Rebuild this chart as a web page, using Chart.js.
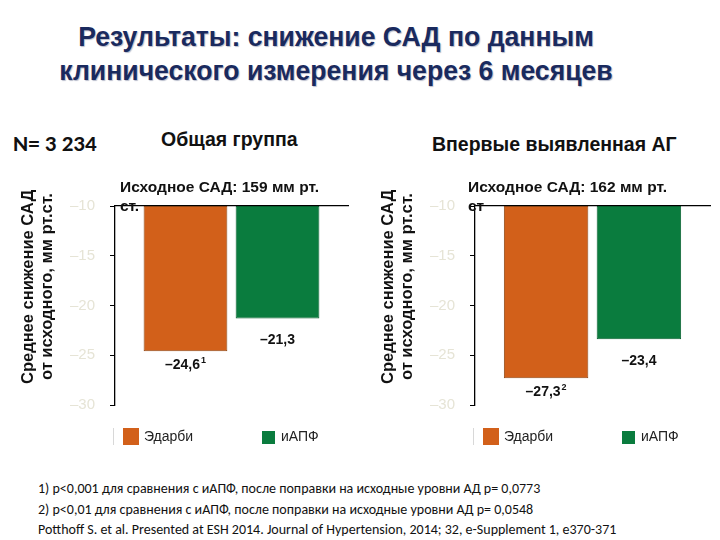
<!DOCTYPE html>
<html>
<head>
<meta charset="utf-8">
<script src="https://cdn.jsdelivr.net/npm/chart.js@4"></script>
<style>
  body { margin: 0; width: 720px; height: 540px; background: #fff; position: relative; overflow: hidden; font-family: "Liberation Sans", Arial, sans-serif; }
  .abs { position: absolute; white-space: nowrap; }
  #title { left: 0; top: 20px; width: 672px; text-align: center; font-family: "Liberation Sans Narrow", "Liberation Sans", sans-serif; font-weight: bold; font-size: 28px; line-height: 34px; color: #1a2a5e; text-shadow: 1px 1px 1px #b8bccb; transform: scaleX(0.95); transform-origin: 336px 0; }
  .calibri { font-family: Carlito, "Liberation Sans Narrow", "Liberation Sans", sans-serif; }
  .head { font-weight: bold; font-size: 19.5px; color: #111; }
  .base { font-weight: bold; font-size: 15.5px; line-height: 19px; color: #111; z-index: 2; }
  .ytitle { writing-mode: vertical-rl; transform: rotate(180deg); font-weight: bold; font-size: 16.5px; line-height: 19px; color: #111; text-align: center; }
  .legend { font-size: 14px; color: #222; }
  .sw { position: absolute; }
  canvas { position: absolute; }
  #notes { left: 38px; top: 479px; font-size: 14px; line-height: 20.5px; color: #111; }
</style>
</head>
<body>
<div id="title" class="abs">Результаты: снижение САД по данным<br>клинического измерения через 6 месяцев</div>

<div class="abs head calibri" style="left:13px; top:129px; font-size:23px;">N= 3 234</div>
<div class="abs head" style="left:161px; top:128px;">Общая группа</div>
<div class="abs head" style="left:432px; top:133px;">Впервые выявленная АГ</div>

<canvas id="leftChart" width="360" height="279" style="left:0; top:150px;"></canvas>
<canvas id="rightChart" width="360" height="279" style="left:360px; top:150px;"></canvas>

<div class="abs base" style="left:120px; top:177px;">Исходное САД: 159 мм рт.<br>ст.</div>
<div class="abs base" style="left:468px; top:177px;">Исходное САД: 162 мм рт.<br>ст</div>

<div class="abs ytitle" style="left:18px; top:187px; height:200px;">Среднее снижение САД<br>от исходного, мм рт.ст.</div>
<div class="abs ytitle" style="left:378px; top:187px; height:200px;">Среднее снижение САД<br>от исходного, мм рт.ст.</div>

<div id="legendLeft"></div>
<div id="legendRight"></div>

<div id="notes" class="abs calibri">1) p&lt;0,001 для сравнения с иАПФ, после поправки на исходные уровни АД p= 0,0773<br>2) p&lt;0,01 для сравнения с иАПФ, после поправки на исходные уровни АД p= 0,0548<br>Potthoff S. et al. Presented at ESH 2014. Journal of Hypertension, 2014; 32, e-Supplement 1, e370-371</div>

<script>
// Data
const seriesNames = ['Эдарби', 'иАПФ'];
const seriesColors = ['#d2601a', '#0a7c3e'];
const seriesBorders = ['#8e4614', '#08602f'];
const baseline = -10;

const totalValues = [-24.6, -21.3];
const totalNotes = ['1', ''];
const newAgValues = [-27.3, -23.4];
const newAgNotes = ['2', ''];

const yMin = -30;
const yMax = -10;
const yStep = 5;

function fmt(v) {
    return '\u2013' + Math.abs(v).toFixed(1).replace('.', ',');
}

// Value labels under each bar, with footnote marks
const valueLabels = {
    id: 'valueLabels',
    afterDatasetsDraw(chart) {
        const ctx = chart.ctx;
        chart.data.datasets.forEach((ds, i) => {
            const bar = chart.getDatasetMeta(i).data[0];
            const text = fmt(ds.value);
            ctx.save();
            ctx.font = 'bold 14px "Liberation Sans", Arial, sans-serif';
            ctx.fillStyle = '#111';
            ctx.textBaseline = 'middle';
            const w = ctx.measureText(text).width;
            ctx.font = 'bold 9px "Liberation Sans", Arial, sans-serif';
            const nw = ds.note ? ctx.measureText(ds.note).width + 1 : 0;
            const x0 = bar.x - (w + nw) / 2;
            const y = bar.y + ds.labelOffset;
            ctx.font = 'bold 14px "Liberation Sans", Arial, sans-serif';
            ctx.textAlign = 'left';
            ctx.fillText(text, x0, y);
            if (ds.note) {
                ctx.font = 'bold 9px "Liberation Sans", Arial, sans-serif';
                ctx.fillText(ds.note, x0 + w + 1, y - 5);
            }
            ctx.restore();
        });
    }
};

function buildChart(id, values, notes, rightPad) {
    const ctx = document.getElementById(id).getContext('2d');
    const datasets = seriesNames.map((name, i) => ({
        label: name,
        data: [[baseline, values[i]]],
        value: values[i],
        note: notes[i],
        labelOffset: i === 0 ? 14 : 22,
        backgroundColor: seriesColors[i],
        borderColor: seriesBorders[i],
        borderWidth: 1,
        borderSkipped: false,
        barPercentage: 0.91,
        categoryPercentage: 0.79
    }));

    return new Chart(ctx, {
        type: 'bar',
        data: { labels: [''], datasets },
        options: {
            responsive: false,
            animation: false,
            layout: { padding: { top: 56, right: rightPad, bottom: 7, left: 0 } },
            plugins: {
                legend: { display: false },
                tooltip: { enabled: false }
            },
            scales: {
                x: {
                    position: 'top',
                    grid: { display: false },
                    ticks: { display: false },
                    border: { display: true, color: '#000', width: 1.3 },
                    afterFit: (s) => { s.height = 0; }
                },
                y: {
                    min: yMin,
                    max: yMax,
                    ticks: {
                        stepSize: yStep,
                        padding: 15,
                        color: '#e6e4d6',
                        font: { size: 15, family: '"Liberation Sans", Arial, sans-serif' },
                        callback: (v) => '\u2013' + Math.abs(v)
                    },
                    grid: { drawOnChartArea: false, drawTicks: true, tickLength: 5, color: '#000' },
                    border: { display: true, color: '#000', width: 1.3 },
                    afterFit: (s) => { s.width = 115; }
                }
            }
        },
        plugins: [valueLabels]
    });
}

function buildLegend(id, offsetX) {
    const el = document.getElementById(id);
    let html = '<div class="sw" style="left:' + (offsetX + 113) + 'px; top:428px; width:1px; height:17px; background:#d8d8d8;"></div>';
    html += '<div class="sw" style="left:' + (offsetX + 123) + 'px; top:428px; width:16px; height:17px; background:' + seriesColors[0] + ';"></div>';
    html += '<div class="abs legend" style="left:' + (offsetX + 144) + 'px; top:428px;">' + seriesNames[0] + '</div>';
    html += '<div class="sw" style="left:' + (offsetX + 262) + 'px; top:431px; width:13px; height:13px; background:' + seriesColors[1] + ';"></div>';
    html += '<div class="abs legend" style="left:' + (offsetX + 281) + 'px; top:428px;">' + seriesNames[1] + '</div>';
    el.innerHTML = html;
}

buildChart('leftChart', totalValues, totalNotes, 12);
buildChart('rightChart', newAgValues, newAgNotes, 10);
buildLegend('legendLeft', 0);
buildLegend('legendRight', 360);
</script>
</body>
</html>
